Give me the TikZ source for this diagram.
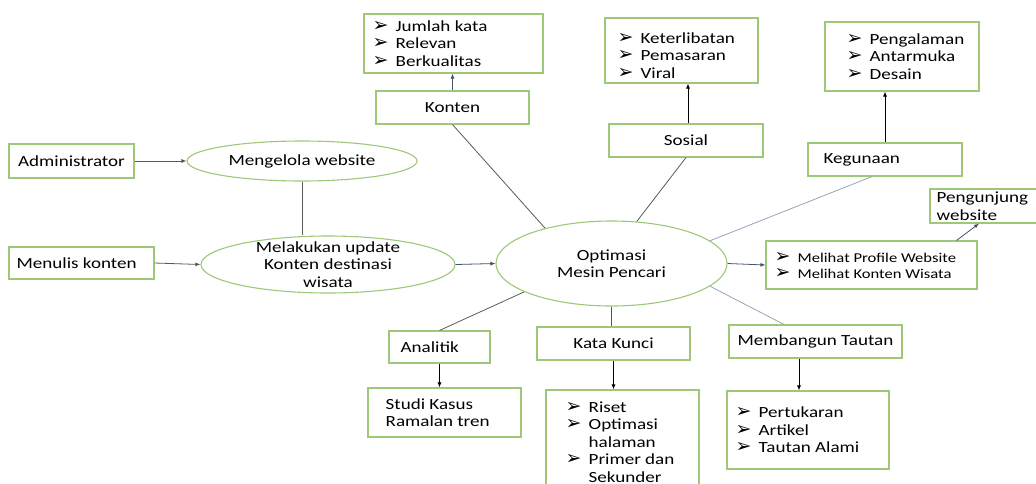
\documentclass[tikz,border=0pt]{standalone}
\usepackage{fontspec}
\setmainfont{Carlito}[FakeStretch=1.23]
\newfontfamily\arrowfont{DejaVu Sans}
\usetikzlibrary{arrows.meta,shapes.geometric}
\definecolor{boxgreen}{RGB}{156,200,120}
\definecolor{linegray}{RGB}{89,89,89}
\definecolor{lineblue}{RGB}{68,84,106}
\definecolor{lightblue}{RGB}{150,164,186}
\newcommand{\itm}[1]{\makebox[23pt][l]{\arrowfont\fontsize{19}{19}\selectfont ➢}#1}
\tikzset{
  box/.style={draw=boxgreen, line width=1.1pt, inner sep=0pt,
    font=\fontsize{15.5}{17.5}\selectfont},
  oval/.style={box, ellipse, align=center},
  txt/.style={anchor=west, align=left, inner sep=0pt,
    font=\fontsize{15.5}{17.5}\selectfont},
  link/.style={line width=0.8pt, draw=linegray},
  arr/.style={link, -{Latex[length=5pt,width=4pt]}}
}
\begin{document}
\begin{tikzpicture}[x=1pt,y=-1pt]
  \useasboundingbox (0,0) rectangle (1036,483);
  % left side
  \node[box, minimum width=125pt, minimum height=34pt] (admin) at (71.5,161) {Administrator};
  \node[box, minimum width=145pt, minimum height=32pt,
    label={[txt, xshift=8pt]west:Menulis konten}] (tulis) at (81.5,263) {};
  \node[oval, minimum width=230pt, minimum height=40pt] (kelola) at (302,161) {Mengelola website};
  \node[oval, minimum width=254pt, minimum height=57pt,
    label={[align=center, font=\fontsize{15.5}{17.5}\selectfont]center:Melakukan update\\Konten destinasi\\wisata}] (update) at (328,264.5) {};
  % centre
  \node[oval, minimum width=231pt, minimum height=85pt] (seo) at (611.5,263.5) {Optimasi\\Mesin Pencari};
  % top row
  \node[box, minimum width=153pt, minimum height=33pt] (konten) at (452.5,107.5) {Konten};
  \node[box, minimum width=179pt, minimum height=59pt,
    label={[txt, xshift=9pt]west:\itm{Jumlah kata}\\\itm{Relevan}\\\itm{Berkualitas}}] (jumlah) at (453.5,43.5) {};
  \node[box, minimum width=154pt, minimum height=33pt] (sosial) at (686,140.5) {Sosial};
  \node[box, minimum width=153pt, minimum height=65pt,
    label={[txt, xshift=13pt, yshift=-5pt]west:\itm{Keterlibatan}\\\itm{Pemasaran}\\\itm{Viral}}] (libat) at (681.5,50.5) {};
  \node[box, minimum width=154pt, minimum height=33pt,
    label={[txt, xshift=16pt]west:Kegunaan}] (guna) at (885,159.5) {};
  \node[box, minimum width=154pt, minimum height=69pt,
    label={[txt, xshift=22pt]west:\itm{Pengalaman}\\\itm{Antarmuka}\\\itm{Desain}}] (alam) at (902,56.5) {};
  % right side
  \node[box, minimum width=211pt, minimum height=48pt,
    label={[txt, xshift=9pt, font=\fontsize{13.5}{16}\selectfont]west:\itm{Melihat Profile Website}\\\itm{Melihat Konten Wisata}}] (lihat) at (871.5,265) {};
  \node[box, minimum width=120pt, minimum height=34pt,
    label={[txt, xshift=7pt]west:Pengunjung\\website}] (kunjung) at (990,206) {};
  % bottom row
  \node[box, minimum width=101pt, minimum height=32pt,
    label={[txt, xshift=12pt]west:Analitik}] (analitik) at (439.5,347) {};
  \node[box, minimum width=153pt, minimum height=49pt,
    label={[txt, xshift=18pt]west:Studi Kasus\\Ramalan tren}] (studi) at (444.5,412.5) {};
  \node[box, minimum width=153pt, minimum height=33pt] (kunci) at (613.5,343.5) {Kata Kunci};
  \node[box, minimum width=153pt, minimum height=104pt,
    label={[txt, xshift=20pt]west:\itm{Riset}\\\itm{Optimasi}\\\hspace*{23pt}halaman\\\itm{Primer dan}\\\hspace*{23pt}Sekunder}] (riset) at (622.5,442) {};
  \node[box, minimum width=173pt, minimum height=33pt] (tautan) at (815.5,341.5) {Membangun Tautan};
  \node[box, minimum width=162pt, minimum height=78pt,
    label={[txt, xshift=9pt]west:\itm{Pertukaran}\\\itm{Artikel}\\\itm{Tautan Alami}}] (tukar) at (808,430) {};
  % connectors
  \draw[arr] (admin.east) -- (kelola.west);
  \draw[arr] (tulis.east) -- (update.west);
  \draw[link] (kelola.south) -- (kelola.south |- update.north);
  \draw[arr, lineblue] (update.east) -- (seo.west);
  \draw[link] (konten.south) -- (seo.152);
  \draw[arr, lineblue] (konten.north) -- (konten.north |- jumlah.south);
  \draw[link] (sosial.south) -- (seo.59);
  \draw[arr, black] ([xshift=2pt]sosial.north) -- ([xshift=2pt]sosial.north |- libat.south);
  \draw[link, lightblue] ([xshift=-13pt]guna.south) -- (seo.13);
  \draw[arr, black] (guna.north) -- (guna.north |- alam.south);
  \draw[arr, lineblue] (seo.east) -- (lihat.west);
  \draw[arr, lineblue] ([xshift=85pt]lihat.north) -- ([xshift=-11pt]kunjung.south);
  \draw[link] (analitik.north) -- (seo.198);
  \draw[arr, black] (analitik.south) -- (analitik.south |- studi.north);
  \draw[link, lineblue] (seo.south) -- (seo.south |- kunci.north);
  \draw[arr, black] (kunci.south) -- (kunci.south |- riset.north);
  \draw[link, lightblue] ([xshift=-31.5pt]tautan.north) -- (seo.-13);
  \draw[arr, black] ([xshift=-16.5pt]tautan.south) -- ([xshift=-16.5pt]tautan.south |- tukar.north);
\end{tikzpicture}
\end{document}
